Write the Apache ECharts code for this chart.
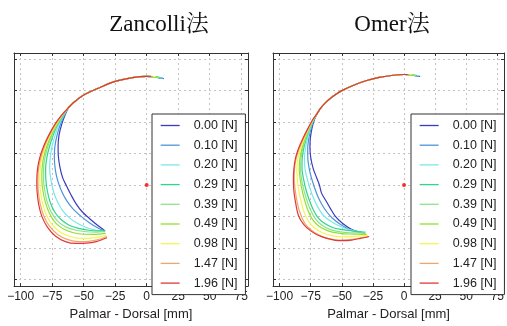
<!DOCTYPE html>
<html>
<head>
<meta charset="utf-8">
<script src="https://cdn.jsdelivr.net/npm/echarts@6/dist/echarts.min.js"></script>
<style>
  html, body { margin: 0; padding: 0; background: #fff; }
  #chart { width: 507px; height: 326px; }
</style>
</head>
<body>
<div id="chart"></div>
<script>
// force levels and line colours (jet-like)
const forces = ['0.00 [N]', '0.10 [N]', '0.20 [N]', '0.29 [N]', '0.39 [N]', '0.49 [N]', '0.98 [N]', '1.47 [N]', '1.96 [N]'];
const colors = ['#3b3bbf', '#4d94db', '#7ae8e8', '#2ed68a', '#8ee28e', '#94e030', '#f5f552', '#f0a66a', '#e0383a'];

const xTicks = [-100, -75, -50, -25, 0, 25, 50, 75];
const yTicks = [-75, -50, -25, 0, 25, 50, 75, 100];
const pivot = [[0, 0]];

// ---- Zancolli: tip start per force, shared upper arc, lower part per force
const zancolliTips = [[13.5, 84.6], [13, 84.8], [12.5, 85], [11, 85.4], [10, 85.6], [9, 85.8], [7, 86.1], [5, 86.2], [3.5, 86.3]];
const zancolliArc = [[0, 86.3], [-10, 85.5], [-25, 82.3], [-37, 77.5], [-50, 71.5], [-58, 65.5], [-62, 61.5]];
const zancolliLower = [
  [[-65, 55], [-67.5, 48], [-69.5, 40], [-70.3, 31], [-70.2, 24], [-69, 15], [-66.8, 6], [-63.5, -1], [-60, -8], [-56, -15], [-51, -21.5], [-45, -27], [-39, -32], [-33, -36.5]],
  [[-65.5, 55], [-68.5, 48], [-71, 40], [-72.8, 31], [-73.3, 22], [-72.5, 12], [-70.5, 3], [-67.5, -5], [-63.5, -12.5], [-58.5, -19], [-52, -25], [-45.5, -30], [-39, -34], [-33, -37]],
  [[-66, 55], [-69.5, 48], [-72.5, 40], [-75, 31], [-76.5, 22], [-77, 13], [-76, 4], [-74, -5], [-71, -13], [-67, -20], [-61.5, -26], [-55, -30.5], [-47.5, -34], [-40, -36], [-33, -37]],
  [[-66.5, 55], [-70.5, 48], [-74, 40], [-77, 31], [-79.2, 22], [-80.2, 13], [-80, 4], [-78.8, -5], [-76.5, -14], [-73, -21.5], [-68, -27.5], [-61.5, -32], [-54, -34.5], [-46, -36], [-39, -36.5], [-33, -36.5]],
  [[-67, 55], [-71, 48], [-75, 40], [-78.3, 31], [-80.7, 22], [-81.8, 13], [-81.8, 4], [-80.8, -5], [-78.8, -14], [-75.5, -22], [-70.5, -29], [-64, -33.5], [-56, -36], [-48, -37.2], [-40, -37.5], [-33, -37.2]],
  [[-67.2, 55], [-71.5, 48], [-75.7, 40], [-79.2, 31], [-81.8, 22], [-83, 13], [-83.2, 4], [-82.3, -5], [-80.3, -14], [-77.2, -22.5], [-72.5, -30], [-66, -35], [-58, -38], [-50, -39.2], [-42, -39.3], [-32.5, -38.5]],
  [[-67.5, 55], [-72, 48], [-76.5, 40], [-80.3, 31], [-83, 22], [-84.5, 13], [-84.8, 4], [-84.3, -5], [-82.5, -15], [-79.5, -24], [-74.8, -32], [-68.5, -37.5], [-60.5, -41], [-52, -42.5], [-44, -42.3], [-37, -41.3], [-32, -40]],
  [[-67.8, 55], [-72.5, 48], [-77, 40], [-81, 31], [-84, 22], [-85.8, 13], [-86.3, 4], [-86, -5], [-84.5, -15], [-81.5, -25], [-77, -33], [-70.5, -39.5], [-62.5, -43.5], [-54, -45], [-46, -44.8], [-38.5, -43.5], [-31.5, -41]],
  [[-68, 55], [-73, 48], [-77.5, 40], [-81.7, 31], [-84.8, 22], [-86.6, 13], [-87.2, 4], [-87, -5], [-85.8, -15], [-83.2, -25], [-78.8, -33.5], [-72.5, -40.5], [-64.5, -45], [-56, -46.5], [-48, -46.3], [-40, -45], [-31.5, -42]]
];

// ---- Omer
const omerTips = [[13, 86.2], [12.5, 86.4], [12, 86.6], [10.5, 87], [9.5, 87.2], [8.5, 87.4], [6.5, 87.6], [4.5, 87.7], [3, 87.8]];
const omerArc = [[0, 87.8], [-10, 87], [-20, 85.5], [-30, 83], [-40, 79.5], [-50, 75], [-57, 70.5], [-63, 65.5], [-67, 61], [-70, 56.5]];
const omerLower = [
  [[-72, 52], [-74, 45], [-75.3, 37], [-75.6, 30], [-75, 22], [-73, 13], [-70.3, 6], [-68, 0], [-66.3, -6.5], [-62.5, -13], [-59, -19], [-55.5, -24.5], [-49.5, -30.5], [-42.7, -35], [-37, -37], [-32, -38]],
  [[-72.3, 52], [-74.7, 45], [-76.5, 37], [-77.4, 29], [-77.3, 21], [-76.2, 13], [-74.5, 6], [-72.3, -1], [-69.5, -8.5], [-66, -15.5], [-62, -21.5], [-57.5, -26.5], [-51, -31.5], [-44, -35.3], [-37.5, -37.3], [-32, -38]],
  [[-72.5, 52], [-75.3, 45], [-77.6, 37], [-79.2, 29], [-80, 21], [-79.6, 13], [-77.8, 5], [-75.5, -3], [-72.5, -11], [-69, -18], [-64.5, -24.5], [-58, -29.5], [-51, -33], [-44, -35.5], [-37.5, -37], [-31.5, -38]],
  [[-72.7, 52], [-75.8, 45], [-78.5, 37], [-80.6, 29], [-81.8, 21], [-82, 13], [-80.8, 5], [-79, -3], [-76.5, -11], [-73.5, -18.5], [-69.5, -25.5], [-64, -30.5], [-57, -34], [-49.5, -35.5], [-42, -36.5], [-35.5, -37.2], [-31, -37.5]],
  [[-72.8, 52], [-76, 45], [-79, 37], [-81.4, 29], [-82.8, 21], [-83.2, 13], [-82.4, 5], [-80.8, -3], [-78.5, -11], [-75.6, -19], [-71.5, -26.5], [-66, -32], [-59, -35.5], [-51, -37.3], [-43, -38], [-35.5, -38.2], [-30.5, -38.5]],
  [[-72.9, 52], [-76.3, 45], [-79.5, 37], [-82, 29], [-83.7, 21], [-84.2, 13], [-83.5, 5], [-82.2, -3], [-80.2, -11], [-77.5, -19.5], [-73.5, -27.5], [-68, -33], [-61, -36.5], [-53, -38.3], [-45, -39], [-37, -39.2], [-30, -39.5]],
  [[-73, 52], [-76.6, 45], [-80.2, 37], [-83.2, 29], [-85.3, 21], [-86.2, 13], [-85.8, 5], [-84.8, -3], [-83, -12], [-80.5, -21], [-77, -28.5], [-72, -34], [-65.5, -38], [-57.5, -40.5], [-49.5, -41.3], [-41.5, -41], [-34, -40.5], [-29, -40.3]],
  [[-73.2, 52], [-76.9, 45], [-80.8, 37], [-84.2, 29], [-86.7, 21], [-88, 13], [-88.2, 5], [-87.6, -3], [-86.2, -12], [-83.8, -21.5], [-80, -30], [-74.5, -36], [-68, -40], [-60, -42.8], [-52, -43.8], [-44, -43.5], [-36, -42.3], [-28.5, -41]],
  [[-73.3, 52], [-77.2, 45], [-81.3, 37], [-84.8, 29], [-87.3, 21], [-88.5, 13], [-88.9, 5], [-88.7, -3], [-87.5, -12], [-84.8, -24.5], [-80.5, -31.5], [-75, -36.5], [-69, -40], [-62, -42.5], [-55, -44], [-49.3, -44.3], [-42, -43.8], [-35, -42.5], [-28, -41]]
];

const chart = echarts.init(document.getElementById('chart'));

const sansFont = 'Liberation Sans, Arial, sans-serif';
const axisColor = '#333';

function panelAxes(gridIndex) {
  const xBase = { type: 'value', gridIndex: gridIndex, min: -105.3, max: 80.4 };
  const yBase = { type: 'value', gridIndex: gridIndex, min: -80.4, max: 104.9 };
  const line = { show: true, onZero: false, lineStyle: { color: axisColor, width: 1 } };
  const tick = (vals) => ({ show: true, inside: true, length: 3, customValues: vals, lineStyle: { color: axisColor } });
  return {
    x: [
      Object.assign({}, xBase, {
        position: 'bottom',
        axisLine: line,
        axisTick: tick(xTicks),
        axisLabel: {
          customValues: xTicks, margin: 5, fontSize: 12, color: '#222', fontFamily: sansFont,
          formatter: v => String(v).replace('-', '\u2212')
        },
        splitLine: { show: true, lineStyle: { color: '#c4c4c4', type: [2, 3], width: 1 } },
        name: 'Palmar - Dorsal [mm]', nameLocation: 'middle', nameGap: 17,
        nameTextStyle: { fontSize: 13, color: '#222', fontFamily: sansFont }
      }),
      Object.assign({}, xBase, {
        position: 'top', axisLine: line, axisTick: tick(xTicks),
        axisLabel: { show: false }, splitLine: { show: false }
      })
    ],
    y: [
      Object.assign({}, yBase, {
        position: 'left', axisLine: line, axisTick: tick(yTicks),
        axisLabel: { show: false },
        splitLine: { show: true, lineStyle: { color: '#c4c4c4', type: [2, 3], width: 1 } }
      }),
      Object.assign({}, yBase, {
        position: 'right', axisLine: line, axisTick: tick(yTicks),
        axisLabel: { show: false }, splitLine: { show: false }
      })
    ]
  };
}

const left = panelAxes(0);
const right = panelAxes(1);

function panelSeries(tips, arc, lower, axisIndex) {
  const out = forces.map((name, i) => ({
    name: name,
    type: 'line',
    xAxisIndex: axisIndex,
    yAxisIndex: axisIndex,
    data: [tips[i]].concat(arc, lower[i]),
    symbol: 'none',
    smooth: 0.3,
    lineStyle: { width: 1.2, color: colors[i] },
    itemStyle: { color: colors[i] },
    animation: false
  }));
  out.push({
    type: 'scatter',
    xAxisIndex: axisIndex,
    yAxisIndex: axisIndex,
    data: pivot,
    symbolSize: 4,
    itemStyle: { color: '#ff0000' },
    animation: false
  });
  return out;
}

function panelLegend(leftPx) {
  return {
    show: true,
    orient: 'vertical',
    left: leftPx,
    top: 114,
    data: forces,
    itemWidth: 19,
    itemHeight: 12,
    itemGap: 6.7,
    padding: [5, 8, 5, 8],
    backgroundColor: '#fff',
    borderColor: '#333',
    borderWidth: 1,
    borderRadius: 0,
    selectedMode: false,
    itemStyle: { opacity: 0 },
    lineStyle: { width: 1.3 },
    textStyle: { fontSize: 12.5, color: '#222', fontFamily: sansFont, padding: [0, 0, 0, 9] }
  };
}

const titleFont = 'Liberation Serif, Times New Roman, Noto Serif CJK JP, Noto Sans CJK JP, serif';

chart.setOption({
  animation: false,
  backgroundColor: '#fff',
  title: [
    { text: 'Zancolli法', left: 154, top: 8, textAlign: 'center',
      textStyle: { fontSize: 23, fontWeight: 'normal', color: '#111', fontFamily: titleFont } },
    { text: 'Omer法', left: 387, top: 8, textAlign: 'center',
      textStyle: { fontSize: 23, fontWeight: 'normal', color: '#111', fontFamily: titleFont } }
  ],
  grid: [
    { left: 14, top: 53, width: 234, height: 239 },
    { left: 273, top: 53, width: 234, height: 239 }
  ],
  xAxis: left.x.concat(right.x),
  yAxis: left.y.concat(right.y),
  legend: [panelLegend(152), panelLegend(411)],
  series: panelSeries(zancolliTips, zancolliArc, zancolliLower, 0)
    .concat(panelSeries(omerTips, omerArc, omerLower, 2))
});
</script>
</body>
</html>
